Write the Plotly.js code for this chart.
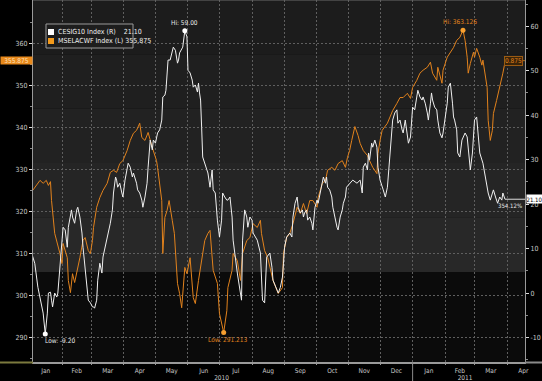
<!DOCTYPE html>
<html><head><meta charset="utf-8">
<script src="https://cdn.plot.ly/plotly-3.0.1.min.js"></script>
<style>html,body{margin:0;padding:0;background:#000;}#chart{width:542px;height:381px;}</style>
</head><body><div id="chart"></div>
<script>
// ---------------- DATA ----------------
const orangeName = 'MSELACWF Index (L)';
const whiteName = 'CESIG10 Index (R)';
const orangeDates = ['2010-01-04','2010-01-11','2010-01-14','2010-01-17','2010-01-19','2010-01-21','2010-01-22','2010-01-25','2010-01-30','2010-02-01','2010-02-02','2010-02-06','2010-02-07','2010-02-09','2010-02-11','2010-02-13','2010-02-18','2010-02-21','2010-02-23','2010-02-26','2010-02-28','2010-03-02','2010-03-03','2010-03-06','2010-03-09','2010-03-12','2010-03-16','2010-03-19','2010-03-22','2010-03-25','2010-03-28','2010-03-31','2010-04-04','2010-04-07','2010-04-10','2010-04-13','2010-04-16','2010-04-18','2010-04-21','2010-04-24','2010-04-28','2010-05-01','2010-05-02','2010-05-03','2010-05-05','2010-05-07','2010-05-08','2010-05-10','2010-05-12','2010-05-14','2010-05-17','2010-05-19','2010-05-22','2010-05-24','2010-05-26','2010-05-29','2010-05-31','2010-06-03','2010-06-06','2010-06-08','2010-06-11','2010-06-14','2010-06-17','2010-06-20','2010-06-22','2010-06-25','2010-06-29','2010-07-01','2010-07-05','2010-07-08','2010-07-09','2010-07-13','2010-07-14','2010-07-18','2010-07-21','2010-07-23','2010-07-27','2010-07-30','2010-08-02','2010-08-06','2010-08-09','2010-08-10','2010-08-13','2010-08-16','2010-08-18','2010-08-21','2010-08-26','2010-08-30','2010-08-31','2010-09-03','2010-09-06','2010-09-09','2010-09-13','2010-09-16','2010-09-19','2010-09-22','2010-09-25','2010-09-28','2010-10-02','2010-10-03','2010-10-07','2010-10-10','2010-10-12','2010-10-16','2010-10-19','2010-10-22','2010-10-26','2010-10-29','2010-10-31','2010-11-02','2010-11-04','2010-11-07','2010-11-10','2010-11-12','2010-11-15','2010-11-19','2010-11-21','2010-11-24','2010-11-28','2010-11-29','2010-12-01','2010-12-03','2010-12-08','2010-12-10','2010-12-13','2010-12-17','2010-12-20','2010-12-23','2010-12-27','2010-12-30','2011-01-01','2011-01-05','2011-01-08','2011-01-11','2011-01-15','2011-01-18','2011-01-20','2011-01-24','2011-01-25','2011-01-29','2011-01-30','2011-02-03','2011-02-06','2011-02-09','2011-02-12','2011-02-15','2011-02-18','2011-02-20','2011-02-22','2011-02-23','2011-02-25','2011-02-28','2011-03-01','2011-03-03','2011-03-06','2011-03-08','2011-03-09','2011-03-13','2011-03-14','2011-03-16','2011-03-18','2011-03-19','2011-03-22','2011-03-25','2011-03-28','2011-03-30','2011-04-02'];
const orangeVals = [325.0,327.4,326.7,327.4,326.2,327.1,322.6,314.8,310.0,307.6,312.4,309.0,303.6,300.7,305.2,303.1,309.0,313.1,313.8,310.7,310.0,313.1,316.2,321.0,323.3,325.0,326.7,329.3,329.8,329.3,331.4,332.1,334.5,336.9,338.6,339.3,341.0,337.6,336.9,338.8,335.2,332.9,332.1,330.5,326.7,322.6,310.0,318.6,320.2,322.6,317.9,314.8,302.9,300.5,297.1,306.7,305.2,309.0,299.5,298.1,303.6,309.0,313.1,314.8,315.5,306.0,302.9,295.7,291.213,296.4,301.9,306.0,310.0,308.3,303.6,310.0,313.1,313.8,317.1,316.2,317.9,314.8,310.7,309.0,306.7,303.6,300.5,301.9,310.0,313.8,314.8,317.1,321.0,319.5,321.9,319.5,322.6,322.6,321.0,323.3,326.7,327.4,329.8,330.5,329.8,331.4,332.1,330.5,332.9,334.5,336.9,340.2,338.1,336.2,334.5,333.3,332.1,330.5,329.0,333.8,336.9,339.3,341.0,342.4,344.0,345.7,347.1,347.1,348.1,346.9,349.5,351.2,352.9,353.6,354.3,355.5,352.9,351.2,354.3,350.5,353.6,356.7,357.9,359.0,360.7,361.4,363.126,360.7,356.7,352.9,355.2,357.9,356.7,358.8,356.7,354.8,356.0,349.5,341.7,336.9,339.3,343.3,346.4,349.5,352.9,355.5,355.875];

const whiteDates = ['2010-01-03','2010-01-06','2010-01-09','2010-01-13','2010-01-14','2010-01-16','2010-01-18','2010-01-19','2010-01-21','2010-01-22','2010-01-23','2010-01-25','2010-01-27','2010-01-28','2010-01-30','2010-02-01','2010-02-02','2010-02-04','2010-02-06','2010-02-07','2010-02-09','2010-02-10','2010-02-11','2010-02-13','2010-02-15','2010-02-16','2010-02-18','2010-02-20','2010-02-21','2010-02-23','2010-02-25','2010-02-26','2010-02-28','2010-03-02','2010-03-03','2010-03-04','2010-03-06','2010-03-07','2010-03-09','2010-03-11','2010-03-12','2010-03-14','2010-03-16','2010-03-17','2010-03-19','2010-03-21','2010-03-22','2010-03-24','2010-03-25','2010-03-26','2010-03-28','2010-03-30','2010-03-31','2010-04-02','2010-04-04','2010-04-05','2010-04-07','2010-04-09','2010-04-10','2010-04-13','2010-04-14','2010-04-16','2010-04-18','2010-04-19','2010-04-21','2010-04-23','2010-04-24','2010-04-26','2010-04-28','2010-04-29','2010-05-01','2010-05-02','2010-05-03','2010-05-05','2010-05-07','2010-05-08','2010-05-10','2010-05-11','2010-05-13','2010-05-15','2010-05-17','2010-05-18','2010-05-20','2010-05-22','2010-05-23','2010-05-24','2010-05-27','2010-05-29','2010-05-31','2010-06-01','2010-06-03','2010-06-05','2010-06-06','2010-06-08','2010-06-10','2010-06-11','2010-06-12','2010-06-13','2010-06-14','2010-06-15','2010-06-19','2010-06-20','2010-06-22','2010-06-24','2010-06-25','2010-06-27','2010-06-29','2010-07-01','2010-07-03','2010-07-04','2010-07-06','2010-07-08','2010-07-09','2010-07-11','2010-07-13','2010-07-14','2010-07-18','2010-07-21','2010-07-22','2010-07-23','2010-07-25','2010-07-27','2010-07-28','2010-07-30','2010-08-01','2010-08-02','2010-08-06','2010-08-09','2010-08-11','2010-08-13','2010-08-15','2010-08-18','2010-08-20','2010-08-21','2010-08-25','2010-08-26','2010-08-28','2010-08-30','2010-08-31','2010-09-01','2010-09-03','2010-09-06','2010-09-08','2010-09-09','2010-09-11','2010-09-13','2010-09-14','2010-09-16','2010-09-18','2010-09-19','2010-09-20','2010-09-22','2010-09-23','2010-09-25','2010-09-27','2010-09-28','2010-09-30','2010-10-02','2010-10-03','2010-10-05','2010-10-07','2010-10-08','2010-10-10','2010-10-11','2010-10-12','2010-10-14','2010-10-16','2010-10-17','2010-10-21','2010-10-22','2010-10-24','2010-10-26','2010-10-27','2010-10-29','2010-10-30','2010-11-02','2010-11-05','2010-11-09','2010-11-12','2010-11-14','2010-11-15','2010-11-17','2010-11-19','2010-11-20','2010-11-21','2010-11-23','2010-11-24','2010-11-26','2010-11-28','2010-11-29','2010-12-01','2010-12-04','2010-12-06','2010-12-08','2010-12-09','2010-12-10','2010-12-12','2010-12-13','2010-12-15','2010-12-17','2010-12-18','2010-12-20','2010-12-22','2010-12-23','2010-12-25','2010-12-27','2010-12-28','2010-12-30','2010-12-31','2011-01-01','2011-01-03','2011-01-05','2011-01-06','2011-01-08','2011-01-10','2011-01-11','2011-01-13','2011-01-15','2011-01-16','2011-01-18','2011-01-19','2011-01-20','2011-01-22','2011-01-24','2011-01-25','2011-01-27','2011-01-29','2011-01-30','2011-02-01','2011-02-03','2011-02-04','2011-02-06','2011-02-08','2011-02-09','2011-02-10','2011-02-12','2011-02-13','2011-02-15','2011-02-17','2011-02-18','2011-02-20','2011-02-22','2011-02-23','2011-02-25','2011-02-27','2011-02-28','2011-03-01','2011-03-03','2011-03-04','2011-03-06','2011-03-09','2011-03-11','2011-03-13','2011-03-14','2011-03-16','2011-03-18','2011-03-19','2011-03-21','2011-03-22','2011-03-23','2011-03-25','2011-03-27','2011-03-28','2011-03-30'];
const whiteVals = [9.0,6.7,1.3,-3.1,-4.5,-9.2,-4.5,0.0,0.2,-1.6,-3.1,0.0,-0.9,0.0,6.7,11.9,14.8,14.2,10.3,14.8,18.0,18.7,17.1,15.7,18.7,19.3,17.1,13.5,10.3,5.8,1.3,-1.6,-2.2,-3.1,-3.1,-3.4,-1.6,2.9,6.7,4.5,8.1,10.3,11.9,13.5,15.7,18.7,22.5,26.1,25.4,23.8,24.7,22.5,21.6,25.4,27.7,29.2,28.3,26.1,27.0,24.7,23.2,22.5,20.9,19.3,21.6,24.7,28.3,34.4,32.2,34.4,33.7,35.1,36.0,36.7,38.9,44.1,44.5,45.6,52.4,52.4,54.6,55.3,54.6,51.7,52.4,54.0,55.3,59.0,57.6,50.1,49.5,47.9,46.3,46.8,45.2,47.2,45.0,43.4,37.3,30.6,27.7,27.0,23.8,27.7,23.2,22.5,16.4,12.6,16.4,22.5,21.6,20.9,20.9,21.6,17.1,11.9,4.5,0.0,-1.6,11.9,18.7,17.1,14.8,17.1,16.4,13.5,11.9,9.0,-1.6,-2.2,8.1,9.0,5.8,2.9,0.7,0.0,1.3,3.6,6.7,10.3,12.6,13.5,12.6,17.1,20.2,21.6,19.3,18.0,18.7,17.1,18.0,18.7,16.4,17.1,15.7,14.2,19.3,20.9,20.2,22.5,25.4,26.1,24.7,26.1,23.8,23.2,21.6,19.3,14.8,14.2,17.1,18.7,20.2,21.6,23.8,24.7,25.4,24.7,25.4,22.5,28.3,29.2,27.7,31.5,29.9,33.7,32.8,34.4,32.8,28.3,25.4,23.2,21.6,23.8,27.0,31.5,36.7,38.9,40.5,41.2,38.2,38.9,36.7,36.0,38.9,36.0,33.7,35.1,38.2,41.8,41.2,44.1,45.6,44.1,43.4,44.1,42.7,40.5,38.9,42.7,45.0,43.4,41.8,41.2,38.9,36.0,34.9,36.0,38.9,42.7,46.3,47.2,42.7,39.6,38.9,36.7,31.5,30.6,34.4,35.1,36.0,35.1,32.2,27.7,31.5,34.4,38.9,39.6,36.7,31.5,29.2,26.1,23.8,22.5,20.9,22.5,23.2,21.6,20.9,20.2,21.6,20.9,22.5,21.1];

const leftTickLabels = ['290','300','310','320','330','340','350','360'];
const leftTickVals = [290,300,310,320,330,340,350,360];
const rightTickVals = [-10,0,10,20,30,40,50,60];
const rightTickLabels = ['-10','0','10','20','30','40','50','60'];
const yearTickDates = ['2010-07-03','2011-02-20'];
const yearLabels = ['2010','2011'];
const onPlotOrangeLabel = '0.875';
const onPlotWhiteLabel = '354.12%';

// ---------------- STYLE / LAYOUT ----------------
const W = 542, H = 381;
const ML = 33, MR = 17, MT = 0, MB = 19;
const PW = W - ML - MR, PH = H - MT - MB;
const px = p => (p - ML) / PW;          // pixel x -> paper
const py = p => (PH + MT - p) / PH;     // pixel y -> paper
const FONT = '"Liberation Sans Narrow", "DejaVu Sans Condensed", "Liberation Sans", Arial, sans-serif';
const ORANGE = '#e2821c';
const WHITE = '#f0f0f0';
const TICKC = '#c8c8c8';
const GRID = '#5f5f5f';
const xRange = ['2010-01-04 08:00', '2011-04-18 02:00'];

function argMax(a){let k=0;for(let i=1;i<a.length;i++) if(a[i]>a[k]) k=i;return k;}
function argMin(a){let k=0;for(let i=1;i<a.length;i++) if(a[i]<a[k]) k=i;return k;}
const oHi = argMax(orangeVals), oLo = argMin(orangeVals);
const wHi = argMax(whiteVals), wLo = argMin(whiteVals);
const oLast = orangeVals.length - 1, wLast = whiteVals.length - 1;

const traces = [
  {type:'scatter', mode:'lines', x:orangeDates, y:orangeVals, yaxis:'y', name:orangeName,
   line:{color:ORANGE, width:1}, hoverinfo:'skip', showlegend:false},
  {type:'scatter', mode:'markers', x:[orangeDates[oHi], orangeDates[oLo]], y:[orangeVals[oHi], orangeVals[oLo]],
   yaxis:'y', marker:{color:'#f7a030', size:5}, hoverinfo:'skip', showlegend:false},
  {type:'scatter', mode:'lines', x:whiteDates, y:whiteVals, yaxis:'y2', name:whiteName,
   line:{color:WHITE, width:1}, hoverinfo:'skip', showlegend:false},
  {type:'scatter', mode:'markers', x:[whiteDates[wHi], whiteDates[wLo]], y:[whiteVals[wHi], whiteVals[wLo]],
   yaxis:'y2', marker:{color:'#ffffff', size:5}, hoverinfo:'skip', showlegend:false},
  {type:'scatter', mode:'markers', x:[xRange[0]], y:[null], xaxis:'x2', yaxis:'y', hoverinfo:'skip', showlegend:false}
];

const bandEdges = [0.2486, 0.40, 0.55, 0.70, 0.85, 1.0];
const bandColors = ['#282828', '#252525', '#222222', '#1f1f1f', '#1c1c1c'];
const shapes = [];
for (let i = 0; i < bandColors.length; i++) {
  shapes.push({type:'rect', xref:'paper', yref:'paper', x0:0, x1:1, y0:bandEdges[i], y1:bandEdges[i+1],
    fillcolor:bandColors[i], line:{width:0}, layer:'below'});
}
// top border
shapes.push({type:'line', xref:'paper', yref:'paper', x0:0, x1:1, y0:1, y1:1, line:{color:'#6a6a6a', width:1}});
// bottom band beyond the axis (left part olive)
shapes.push({type:'line', xref:'paper', yref:'paper', x0:px(0), x1:0, y0:py(362.5), y1:py(362.5), line:{color:'#7c7a3e', width:2}});
shapes.push({type:'line', xref:'paper', yref:'paper', x0:1, x1:px(W), y0:py(362.5), y1:py(362.5), line:{color:'#8a8a8a', width:2}});
// year divider below axis
shapes.push({type:'line', xref:'x', yref:'paper', x0:'2011-01-01', x1:'2011-01-01', y0:py(H), y1:0, line:{color:'#8a8a8a', width:1}});
// last-value lines
shapes.push({type:'line', xref:'x', yref:'y', x0:orangeDates[oLast], x1:xRange[1], y0:orangeVals[oLast], y1:orangeVals[oLast], line:{color:'#b06a18', width:1}});
shapes.push({type:'line', xref:'x', yref:'y2', x0:whiteDates[wLast], x1:xRange[1], y0:whiteVals[wLast], y1:whiteVals[wLast], line:{color:'#dddddd', width:1}});
// legend box
shapes.push({type:'rect', xref:'paper', yref:'paper', x0:px(46), x1:px(133), y0:py(48), y1:py(24),
  fillcolor:'#1d1d1d', line:{color:'#9a9a9a', width:1}, layer:'above'});
shapes.push({type:'rect', xref:'paper', yref:'paper', x0:px(48), x1:px(54), y0:py(35), y1:py(29),
  fillcolor:'#ffffff', line:{width:0}, layer:'above'});
shapes.push({type:'rect', xref:'paper', yref:'paper', x0:px(48), x1:px(54), y0:py(44), y1:py(38),
  fillcolor:'#f39a1c', line:{width:0}, layer:'above'});

const NB = '\u00a0';
const annotations = [
  // legend texts
  {xref:'paper', yref:'paper', x:px(56), y:py(32), xanchor:'left', yanchor:'middle', showarrow:false,
   text: whiteName + NB+NB+NB+NB + whiteVals[wLast].toFixed(2), font:{family:FONT, size:7, color:'#f0f0f0'}},
  {xref:'paper', yref:'paper', x:px(56), y:py(41), xanchor:'left', yanchor:'middle', showarrow:false,
   text: orangeName + NB + orangeVals[oLast].toFixed(3), font:{family:FONT, size:7, color:'#f0f0f0'}},
  // axis last-value boxes
  {xref:'paper', yref:'y', x:px(0), y:orangeVals[oLast], xanchor:'left', yanchor:'middle', showarrow:false,
   text: orangeVals[oLast].toFixed(3), bgcolor:'#e8891c', borderpad:0, width:31, height:7,
   font:{family:FONT, size:6.5, color:'#ffe2bb'}},
  {xref:'paper', yref:'y2', x:px(526), y:whiteVals[wLast], xanchor:'left', yanchor:'middle', showarrow:false,
   text: whiteVals[wLast].toFixed(2), bgcolor:'#ffffff', borderpad:0, width:15, height:8,
   font:{family:FONT, size:6, color:'#000000'}},
  // on-plot last-value labels
  {xref:'paper', yref:'y', x:px(504), y:orangeVals[oLast], xanchor:'left', yanchor:'middle', showarrow:false,
   text: onPlotOrangeLabel, bgcolor:'#3a2408', bordercolor:'#9a5a12', borderwidth:1, borderpad:0,
   font:{family:FONT, size:6.5, color:ORANGE}},
  {xref:'paper', yref:'y2', x:px(524), y:whiteVals[wLast], xanchor:'right', yanchor:'top', yshift:-1, showarrow:false,
   text: onPlotWhiteLabel, font:{family:FONT, size:6, color:'#e8e8e8'}},
  // Hi / Low labels
  {xref:'x', yref:'y2', x:whiteDates[wHi], y:whiteVals[wHi], xanchor:'center', yanchor:'bottom', yshift:2, showarrow:false,
   text:'Hi: ' + whiteVals[wHi].toFixed(2), font:{family:FONT, size:6.5, color:'#e8e8e8'}},
  {xref:'x', yref:'y2', x:whiteDates[wLo], y:whiteVals[wLo], xanchor:'left', yanchor:'top', xshift:-2, yshift:-1, showarrow:false,
   text:'Low: ' + whiteVals[wLo].toFixed(2), font:{family:FONT, size:6.5, color:'#e8e8e8'}},
  {xref:'x', yref:'y', x:orangeDates[oHi], y:orangeVals[oHi], xanchor:'center', yanchor:'bottom', xshift:-3, yshift:2, showarrow:false,
   text:'Hi: ' + orangeVals[oHi].toFixed(3), font:{family:FONT, size:6.5, color:ORANGE}},
  {xref:'x', yref:'y', x:orangeDates[oLo], y:orangeVals[oLo], xanchor:'center', yanchor:'top', xshift:4, yshift:-1, showarrow:false,
   text:'Low: ' + orangeVals[oLo].toFixed(3), font:{family:FONT, size:6.5, color:ORANGE}}
];

const layout = {
  width:W, height:H, margin:{l:ML, r:MR, t:MT, b:MB, pad:0},
  paper_bgcolor:'#000000', plot_bgcolor:'#0b0b0b',
  showlegend:false, hovermode:false,
  xaxis:{type:'date', range:xRange, tick0:'2010-01-01', dtick:'M1', ticklabelmode:'period', tickformat:'%b',
    showgrid:true, gridcolor:GRID, griddash:'2px,2px', gridwidth:1,
    ticks:'outside', ticklen:1, tickcolor:'#999999',
    tickfont:{family:FONT, size:6.5, color:TICKC},
    showline:true, linecolor:'#9a9a9a', linewidth:2, zeroline:false, fixedrange:true},
  xaxis2:{type:'date', overlaying:'x', anchor:'y', side:'bottom', range:xRange,
    tickmode:'array', tickvals:yearTickDates, ticktext:yearLabels,
    showgrid:false, ticks:'outside', ticklen:9, tickcolor:'rgba(0,0,0,0)',
    tickfont:{family:FONT, size:6.5, color:TICKC}, showline:false, zeroline:false, fixedrange:true},
  yaxis:{range:[284.2, 370.3], tickmode:'array', tickvals:leftTickVals, ticktext:leftTickLabels, side:'left',
    ticks:'outside', ticklen:3, tickcolor:'#dddddd',
    tickfont:{family:FONT, size:7, color:TICKC},
    showgrid:true, gridcolor:GRID, griddash:'2px,2px', gridwidth:1,
    showline:true, linecolor:'#9a9a9a', zeroline:false, fixedrange:true,
    minor:{tickmode:'linear', tick0:285, dtick:10, ticks:'outside', ticklen:2, tickcolor:'#8a8a8a', showgrid:false}},
  yaxis2:{range:[-15.5, 65.9], overlaying:'y', side:'right', anchor:'x',
    tickmode:'array', tickvals:rightTickVals, ticktext:rightTickLabels,
    ticks:'outside', ticklen:3, tickcolor:'#dddddd',
    tickfont:{family:FONT, size:7, color:TICKC},
    showgrid:false, showline:true, linecolor:'#9a9a9a', zeroline:false, fixedrange:true,
    minor:{tickmode:'linear', tick0:-15, dtick:10, ticks:'outside', ticklen:2, tickcolor:'#8a8a8a', showgrid:false}},
  shapes:shapes, annotations:annotations
};

Plotly.newPlot('chart', traces, layout, {staticPlot:true, displayModeBar:false});
</script></body></html>
